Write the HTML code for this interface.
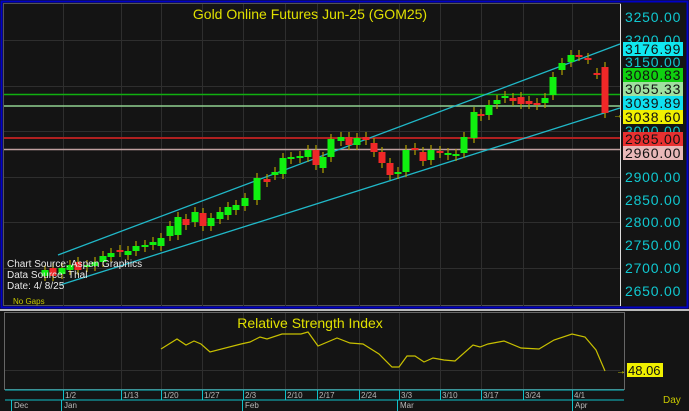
<!DOCTYPE html>
<html><head><meta charset="utf-8"><style>
html,body{margin:0;padding:0;background:#141414;}
svg{display:block;font-family:"Liberation Sans",sans-serif;}
</style></head><body>
<svg id="s" width="689" height="411" viewBox="0 0 689 411" xmlns="http://www.w3.org/2000/svg">
<rect x="0" y="0" width="689" height="411" fill="#141414"/>
<rect x="1.5" y="1.5" width="686" height="306" fill="none" stroke="#0000c8" stroke-width="2"/>
<rect x="3.5" y="3.5" width="617" height="302" fill="none" stroke="#555" stroke-width="1"/>
<line x1="0" y1="310" x2="689" y2="310" stroke="#bbb" stroke-width="2"/>
<rect x="4.5" y="312.5" width="620" height="77" fill="none" stroke="#666" stroke-width="1"/>
<g id="grid" stroke="#2e2e2e" stroke-width="1"></g>
<line x1="4" y1="94.5" x2="620" y2="94.5" stroke="#10b010" stroke-width="1.5"/>
<line x1="4" y1="106" x2="620" y2="106" stroke="#90d090" stroke-width="1.5"/>
<line x1="4" y1="138" x2="620" y2="138" stroke="#b02020" stroke-width="2"/>
<line x1="4" y1="149.5" x2="620" y2="149.5" stroke="#c0a0a0" stroke-width="1.5"/>
<line x1="58" y1="255" x2="620" y2="44" stroke="#20b8c8" stroke-width="1.3"/>
<line x1="60" y1="285" x2="620" y2="108" stroke="#20b8c8" stroke-width="1.3"/>
<g id="candles"></g>
<text x="310" y="19" fill="#e0e000" font-size="14" text-anchor="middle">Gold  Online  Futures  Jun-25  (GOM25)</text>
<text x="7" y="267" fill="#e8e8e8" font-size="10">Chart  Source:  Aspen  Graphics</text>
<text x="7" y="278" fill="#e8e8e8" font-size="10">Data  Source:  Thal</text>
<text x="7" y="289" fill="#e8e8e8" font-size="10">Date:   4/  8/25</text>
<text x="13" y="304" fill="#c8c800" font-size="8">No  Gaps</text>
<line x1="620.5" y1="4" x2="620.5" y2="306" stroke="#ddd" stroke-width="1"/>
<g fill="#10c8d0" font-size="14" letter-spacing="0.8">
<text x="625" y="22">3250.00</text><text x="625" y="45">3200.00</text><text x="625" y="67">3150.00</text>
<text x="625" y="136">3000.00</text><text x="625" y="182">2900.00</text><text x="625" y="205">2850.00</text>
<text x="625" y="227">2800.00</text><text x="625" y="250">2750.00</text><text x="625" y="273">2700.00</text><text x="625" y="296">2650.00</text>
</g>
<g font-size="14" fill="#111" letter-spacing="0.8">
<rect x="623" y="42" width="60" height="14" fill="#10e8f0"/><text x="625" y="54">3176.99</text>
<rect x="623" y="68" width="60" height="14" fill="#10d010"/><text x="625" y="80">3080.83</text>
<rect x="623" y="82" width="60" height="14" fill="#a0e0a0"/><text x="625" y="94">3055.33</text>
<rect x="623" y="96" width="60" height="14" fill="#10e0f0"/><text x="625" y="108">3039.89</text>
<rect x="623" y="110" width="60" height="14" fill="#f0f000"/><text x="625" y="122">3038.60</text>
<rect x="623" y="132" width="60" height="14" fill="#e83030"/><text x="625" y="144">2985.00</text>
<rect x="623" y="146" width="60" height="14" fill="#e8b8b8"/><text x="625" y="158">2960.00</text>
</g>
<text x="613" y="118" fill="#e0e000" font-size="10">→</text>
<text x="310" y="328" fill="#e0e000" font-size="14" text-anchor="middle">Relative  Strength  Index</text>
<polyline fill="none" stroke="#c8c000" stroke-width="1.2" points="161,349 177,339 186,345 194,341 201,344 210,352 241,344 250,342 260,337 267,339 282,334 301,334 308,332 318,346 337,338 350,343 363,344 379,354 392,367 399,367 407,356 415,356 424,362 433,358 444,360 455,361 473,345 480,347 488,344 504,341 521,348 539,349 554,340 572,334 585,337 596,350 605,371"/>
<rect x="627" y="363" width="36" height="14" fill="#f0f000"/>
<text x="628" y="375" fill="#111" font-size="13">48.06</text>
<text x="616" y="374" fill="#e0e000" font-size="10">→</text>
<line x1="5" y1="390" x2="624" y2="390" stroke="#10c0c8" stroke-width="1"/>
<line x1="5" y1="400" x2="624" y2="400" stroke="#10c0c8" stroke-width="1"/>
<g id="xaxis" fill="#b8b8b8" font-size="8"></g>
<text x="663" y="403" fill="#c8c800" font-size="10">Day</text>
</svg>
<script>
var NS="http://www.w3.org/2000/svg";
function el(p,t,a,txt){var e=document.createElementNS(NS,t);for(var k in a)e.setAttribute(k,a[k]);if(txt)e.textContent=txt;document.getElementById(p).appendChild(e);return e;}
var wk=[63,121,161,202,243,285,317,359,399,440,481,523,572];
wk.forEach(function(x){el("grid","line",{x1:x+.5,y1:4,x2:x+.5,y2:306});el("grid","line",{x1:x+.5,y1:313,x2:x+.5,y2:389});});
[40,86,131,177,222,268].forEach(function(y){el("grid","line",{x1:4,y1:y+.5,x2:620,y2:y+.5});});
[370].forEach(function(y){el("grid","line",{x1:5,y1:y+.5,x2:620,y2:y+.5});});
var lab=["1/2","1/13","1/20","1/27","2/3","2/10","2/17","2/24","3/3","3/10","3/17","3/24","4/1"];
wk.forEach(function(x,i){el("grid","line",{x1:x+.5,y1:390,x2:x+.5,y2:400,stroke:"#10c0c8"});el("xaxis","text",{x:x+2,y:398},lab[i]);});
[[14,"Dec"],[64,"Jan"],[245,"Feb"],[400,"Mar"],[575,"Apr"]].forEach(function(m){el("grid","line",{x1:m[0]-2.5,y1:400,x2:m[0]-2.5,y2:411,stroke:"#10c0c8"});el("xaxis","text",{x:m[0],y:408},m[1]);});
var c=[[45,276,270],[53,268,276],[62,274,268],[70,270,265],[78,262,270],[87,267,265],[95,266,262],[103,262,256],[111,257,253],[120,250,252],[128,255,251],[136,251,246],[145,247,245],[153,245,242],[161,246,238],[170,236,226],[178,235,217],[186,219,225],[195,222,212],[203,213,226],[211,226,218],[220,219,212],[228,215,207],[236,210,205],[245,206,198],[257,200,178],[267,179,182],[275,175,172],[283,174,158],[291,159,157],[300,158,156],[308,157,150],[316,150,165],[323,168,157],[331,157,139],[341,141,137],[349,137,145],[357,145,138],[366,137,140],[374,143,152],[382,152,163],[390,163,175],[398,174,172],[406,172,150],[415,148,150],[423,152,161],[431,160,150],[440,151,153],[448,155,153],[456,156,154],[464,153,137],[474,138,112],[481,114,116],[489,115,105],[497,104,100],[505,98,96],[513,98,101],[521,97,104],[529,101,104],[537,103,105],[545,103,98],[553,95,77],[562,70,63],[571,62,55],[579,55,56],[588,58,59],[597,73,74],[605,67,113]];
c.forEach(function(d){var x=d[0],o=d[1],cl=d[2],up=cl<o,top=Math.min(o,cl),bot=Math.max(o,cl);
el("candles","line",{x1:x,y1:top-5,x2:x,y2:bot+5,stroke:"#b0a000","stroke-width":1.2});
var h=Math.max(bot-top,2);el("candles","rect",{x:x-3.5,y:top,width:7,height:h,fill:up?"#10f010":"#f02828"});});
</script>
</body></html>
